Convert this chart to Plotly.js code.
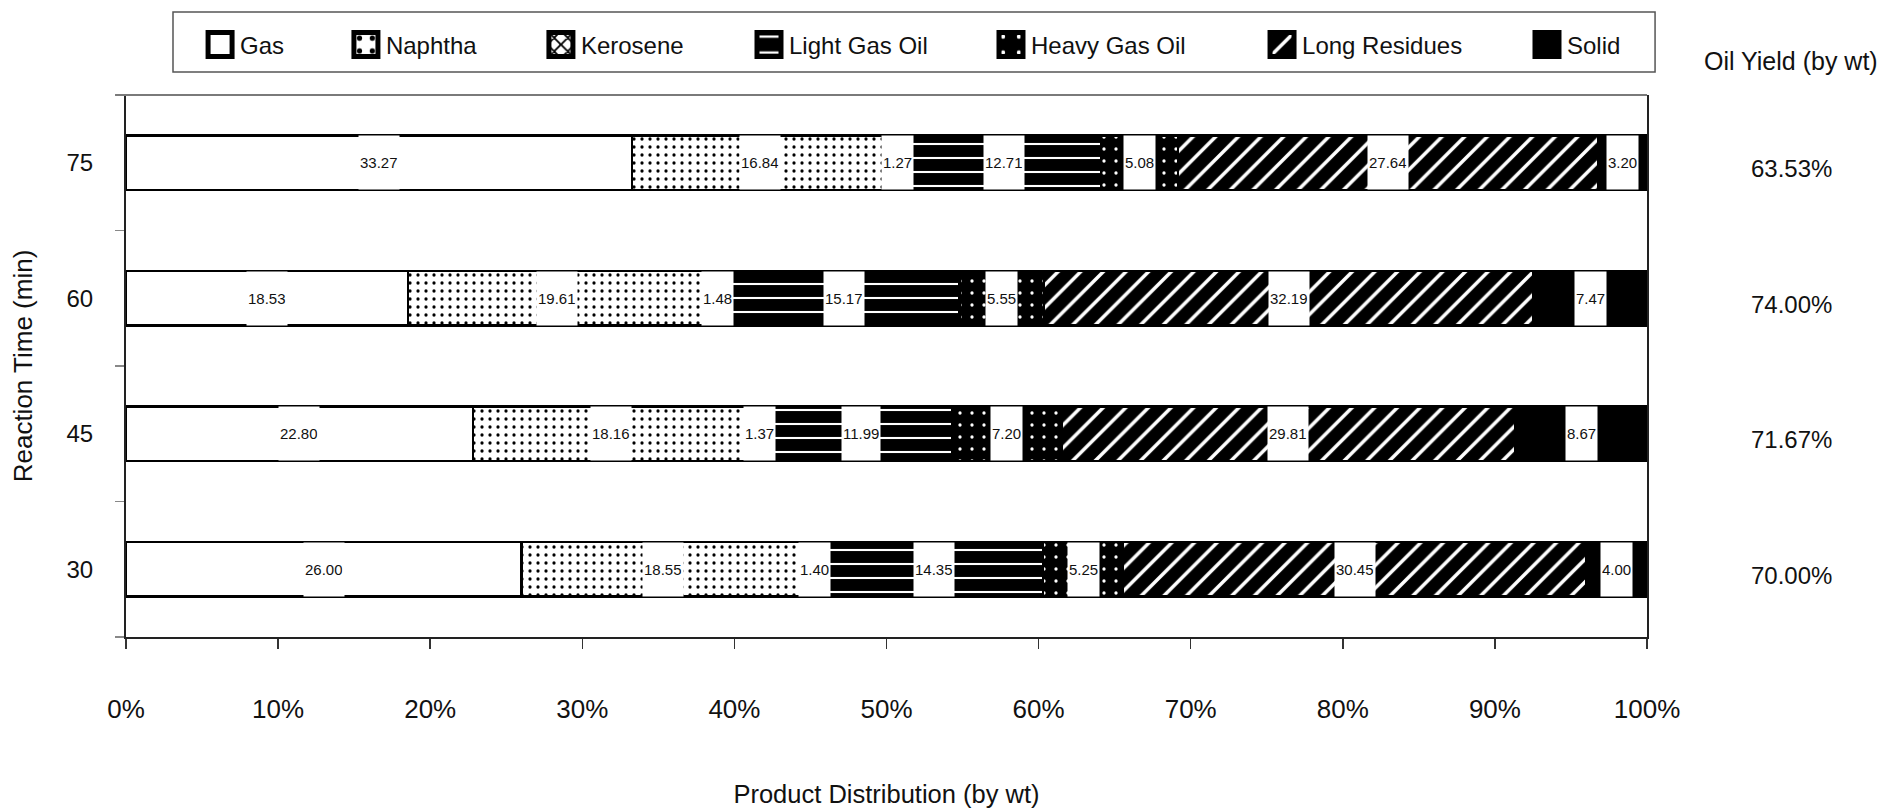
<!DOCTYPE html>
<html>
<head>
<meta charset="utf-8">
<script src="https://cdn.plot.ly/plotly-3.0.1.min.js"></script>
<style>
html, body { margin: 0; padding: 0; background: #ffffff; }
#chart { width: 1888px; height: 808px; }
#err { position: absolute; left: 10px; top: 300px; color: red; font: 14px monospace; white-space: pre; }
</style>
</head>
<body>
<div id="chart"></div>
<div id="err"></div>
<script>
window.onerror = function (msg, src, line, col, e) {
  document.getElementById('err').textContent += msg + ' @' + line + ':' + col + '\n';
};
// ---------------- data ----------------
const reactionTimes = [30, 45, 60, 75];
const gas          = [26.00, 22.80, 18.53, 33.27];
const naphtha      = [18.55, 18.16, 19.61, 16.84];
const kerosene     = [1.40, 1.37, 1.48, 1.27];
const lightGasOil  = [14.35, 11.99, 15.17, 12.71];
const heavyGasOil  = [5.25, 7.20, 5.55, 5.08];
const longResidues = [30.45, 29.81, 32.19, 27.64];
const solid        = [4.00, 8.67, 7.47, 3.20];
const oilYield     = [70.00, 71.67, 74.00, 63.53];
const seriesNames  = ['Gas', 'Naphtha', 'Kerosene', 'Light Gas Oil', 'Heavy Gas Oil', 'Long Residues', 'Solid'];
const xTickVals    = [0, 10, 20, 30, 40, 50, 60, 70, 80, 90, 100];
const xTickText    = ['0%', '10%', '20%', '30%', '40%', '50%', '60%', '70%', '80%', '90%', '100%'];
const yTickText    = ['30', '45', '60', '75'];

// ---------------- styles ----------------
const FONT = 'Liberation Sans, Arial, Helvetica, sans-serif';
const seriesValues = [gas, naphtha, kerosene, lightGasOil, heavyGasOil, longResidues, solid];
const step = 15;                       // spacing of the reaction-time rows
const barWidth = step * 0.4;
const yBoundaries = [22.5, 37.5, 52.5, 67.5, 82.5];
function edge() { return { color: '#000000', width: 2.5 }; }
const seriesMarkers = [
  { color: '#ffffff', line: edge() },
  { color: '#ffffff', line: edge(), pattern: { shape: '.', fgcolor: '#000000', bgcolor: '#ffffff', size: 8, solidity: 0.13 } },
  { color: '#ffffff', line: edge(), pattern: { shape: 'x', fgcolor: '#000000', bgcolor: '#ffffff', size: 6, solidity: 0.35 } },
  { color: '#000000', line: edge(), pattern: { shape: '-', fgcolor: '#ffffff', bgcolor: '#000000', size: 14, solidity: 0.15 } },
  { color: '#000000', line: edge(), pattern: { shape: '.', fgcolor: '#ffffff', bgcolor: '#000000', size: 12, solidity: 0.06 } },
  { color: '#000000', line: edge(), pattern: { shape: '/', fgcolor: '#ffffff', bgcolor: '#000000', size: 16, solidity: 0.22 } },
  { color: '#000000', line: edge() }
];
const legendX = [0.0487, 0.1446, 0.2728, 0.4096, 0.5687, 0.7469, 0.9211];
const legendIds = ['legend', 'legend2', 'legend3', 'legend4', 'legend5', 'legend6', 'legend7'];

// ---------------- traces ----------------
const traces = seriesNames.map((name, k) => ({
  type: 'bar',
  orientation: 'h',
  name: name,
  x: seriesValues[k],
  y: reactionTimes,
  width: barWidth,
  marker: seriesMarkers[k],
  legend: legendIds[k],
  hoverinfo: 'x+name'
}));

// ---------------- value labels ----------------
const annotations = [];
reactionTimes.forEach((rt, i) => {
  let cum = 0;
  seriesValues.forEach((vals) => {
    const v = vals[i];
    annotations.push({
      x: cum + v / 2, y: rt, xref: 'x', yref: 'y',
      xanchor: 'center', yanchor: 'middle',
      text: v.toFixed(2), showarrow: false,
      bgcolor: '#ffffff', height: 51, borderpad: 1,
      font: { family: FONT, size: 15, color: '#111111' }
    });
    cum += v;
  });
  annotations.push({
    x: 1.0947, y: rt, xref: 'paper', yref: 'y', yshift: -6,
    xanchor: 'center', yanchor: 'middle',
    text: oilYield[i].toFixed(2) + '%', showarrow: false,
    font: { family: FONT, size: 24, color: '#111111' }
  });
});
annotations.push({
  x: 1.0947, y: 1.0627, xref: 'paper', yref: 'paper',
  xanchor: 'center', yanchor: 'middle',
  text: 'Oil Yield (by wt)', showarrow: false,
  font: { family: FONT, size: 25, color: '#111111' }
});

// ---------------- layout ----------------
const layout = {
  width: 1888, height: 808,
  margin: { l: 126, r: 241, t: 95, b: 171, autoexpand: false },
  paper_bgcolor: '#ffffff', plot_bgcolor: '#ffffff',
  barmode: 'stack',
  font: { family: FONT, color: '#111111' },
  xaxis: {
    range: [0, 100], tickmode: 'array', tickvals: xTickVals, ticktext: xTickText,
    showgrid: false, zeroline: false,
    showline: true, linecolor: '#222222', linewidth: 2, mirror: false,
    ticks: 'outside', ticklen: 10, tickwidth: 1.5, tickcolor: '#333333',
    ticklabelstandoff: 38,
    tickfont: { family: FONT, size: 26, color: '#111111' },
    title: { text: 'Product Distribution (by wt)', font: { family: FONT, size: 25.5, color: '#111111' }, standoff: 64 }
  },
  yaxis: {
    range: [22.5, 82.5], tickmode: 'array', tickvals: reactionTimes, ticktext: yTickText,
    showgrid: false, zeroline: false,
    showline: true, linecolor: '#222222', linewidth: 2, mirror: true,
    ticks: '', ticklabelstandoff: 26,
    minor: { tickmode: 'array', tickvals: yBoundaries, ticks: 'outside', ticklen: 9, tickwidth: 1.5, tickcolor: '#888888', showgrid: false },
    tickfont: { family: FONT, size: 24, color: '#111111' },
    title: { text: 'Reaction Time (min)', font: { family: FONT, size: 26, color: '#111111' }, standoff: 26 }
  },
  shapes: [
    {
      type: 'rect', xref: 'paper', yref: 'paper',
      x0: 0.0309, x1: 1.0053, y0: 1.0424, y1: 1.1531,
      line: { color: '#555555', width: 1.5 }, fillcolor: 'rgba(0,0,0,0)', layer: 'below'
    },
    {
      type: 'line', xref: 'paper', yref: 'paper',
      x0: -0.007, x1: 1, y0: 1, y1: 1,
      line: { color: '#7a7a7a', width: 2 }
    }
  ],
  annotations: annotations,
  showlegend: true
};
legendIds.forEach((id, k) => {
  layout[id] = {
    x: legendX[k], y: 1.0923, xref: 'paper', yref: 'paper',
    xanchor: 'left', yanchor: 'middle', orientation: 'h',
    bgcolor: 'rgba(0,0,0,0)', borderwidth: 0,
    font: { family: FONT, size: 24, color: '#111111' }
  };
});

function enlargeLegendKeys() {
  document.querySelectorAll('.legendpoints path').forEach((p) => {
    const t = p.getAttribute('transform') || '';
    if (t.indexOf('scale') === -1) p.setAttribute('transform', (t + ' scale(2)').trim());
  });
}

Plotly.newPlot('chart', traces, layout, { displayModeBar: false, staticPlot: true }).then((gd) => {
  enlargeLegendKeys();
  gd.on('plotly_afterplot', enlargeLegendKeys);
  setTimeout(enlargeLegendKeys, 50);
  setTimeout(enlargeLegendKeys, 300);
  setTimeout(enlargeLegendKeys, 1000);
}).catch((e) => {
  document.getElementById('err').textContent += 'promise: ' + e + '\n';
});
</script>
</body>
</html>
